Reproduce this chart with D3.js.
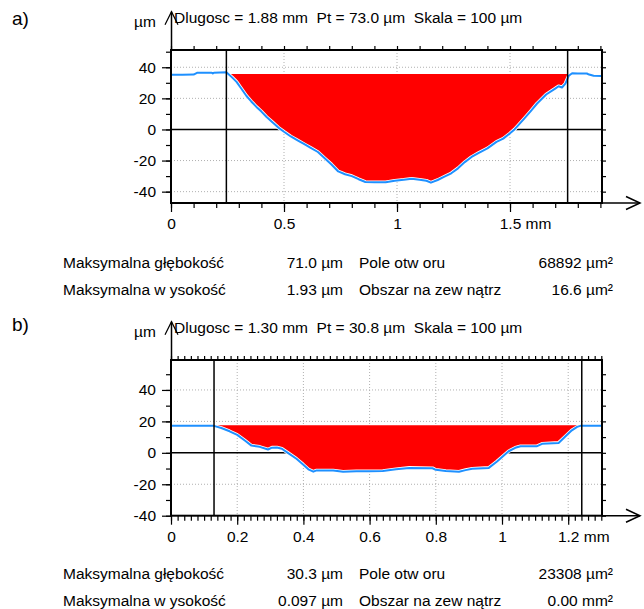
<!DOCTYPE html>
<html>
<head>
<meta charset="utf-8">
<script src="https://cdn.jsdelivr.net/npm/d3@7"></script>
<style>
body { margin: 0; background: #fff; }
svg text { font-family: "Liberation Sans", Arial, sans-serif; font-size: 15.5px; fill: #000; }
</style>
</head>
<body>
<svg id="mySvg" width="644" height="609"></svg>
<script>
var svg = d3.select("#mySvg");

// ---- data: profile a) ----
const profileAX = [0, 0.05, 0.10, 0.115, 0.18, 0.185, 0.19, 0.245, 0.27, 0.29, 0.31, 0.334, 0.355, 0.378, 0.40, 0.423, 0.45, 0.475, 0.50, 0.53, 0.56, 0.59, 0.62, 0.65, 0.68, 0.71, 0.74, 0.77, 0.80, 0.83, 0.86, 0.90, 0.95, 0.99, 1.03, 1.065, 1.10, 1.13, 1.15, 1.18, 1.21, 1.24, 1.27, 1.30, 1.33, 1.36, 1.40, 1.44, 1.47, 1.50, 1.52, 1.56, 1.59, 1.62, 1.66, 1.70, 1.715, 1.73, 1.745, 1.76, 1.775, 1.80, 1.84, 1.85, 1.87, 1.905];
const profileAY = [35.2, 35.2, 35.3, 36.4, 36.5, 36.0, 36.5, 36.8, 33.5, 30.6, 26.5, 21.5, 18.0, 14.5, 11.5, 8.0, 4.5, 1.2, -1.5, -4.5, -7.0, -9.5, -12.0, -14.5, -18.5, -22.5, -27.0, -28.8, -30.0, -32.0, -33.8, -34.0, -34.0, -33.0, -32.4, -31.7, -32.3, -33.0, -34.2, -32.5, -30.3, -28.2, -25.0, -21.0, -17.7, -15.2, -12.2, -8.0, -5.9, -2.5, 0.0, 6.5, 11.5, 16.7, 22.5, 26.3, 27.8, 27.0, 29.5, 34.5, 36.2, 36.0, 36.0, 35.3, 34.5, 34.4];
const levelA = 35.7;
const markersA = [0.245, 1.755];
const xTicksA = [0, 0.5, 1, 1.5];
const xTickLabelsA = ["0", "0.5", "1", "1.5"];
const headerA = "Dlugosc = 1.88 mm  Pt = 73.0 µm  Skala = 100 µm";
const statValuesA = ["71.0 µm", "1.93 µm"];
const statValues2A = ["68892 µm²", "16.6 µm²"];

// ---- data: profile b) ----
const profileBX = [0, 0.127, 0.152, 0.177, 0.20, 0.223, 0.243, 0.268, 0.293, 0.305, 0.32, 0.335, 0.353, 0.379, 0.399, 0.415, 0.43, 0.44, 0.49, 0.52, 0.56, 0.60, 0.64, 0.68, 0.72, 0.79, 0.80, 0.83, 0.87, 0.89, 0.91, 0.96, 0.985, 1.02, 1.04, 1.056, 1.106, 1.121, 1.171, 1.192, 1.211, 1.227, 1.239, 1.302];
const profileBY = [17.3, 17.3, 15.8, 13.7, 11.4, 7.8, 4.6, 3.8, 2.1, 3.3, 3.4, 2.6, 0.0, -3.8, -7.4, -10.5, -12.0, -11.2, -11.2, -12.0, -11.8, -11.8, -11.6, -10.5, -9.6, -9.8, -10.8, -11.6, -12.0, -11.0, -10.2, -9.6, -5.5, 1.0, 3.2, 4.2, 4.2, 5.7, 6.3, 10.5, 14.3, 16.5, 17.3, 17.3];
const levelB = 17.6;
const markersB = [0.130, 1.241];
const xTicksB = [0, 0.2, 0.4, 0.6, 0.8, 1, 1.2];
const xTickLabelsB = ["0", "0.2", "0.4", "0.6", "0.8", "1", "1.2"];
const headerB = "Dlugosc = 1.30 mm  Pt = 30.8 µm  Skala = 100 µm";
const statValuesB = ["30.3 µm", "0.097 µm"];
const statValues2B = ["23308 µm²", "0.00 mm²"];

// shared
const yTicks = [-40, -20, 0, 20, 40];
const yTickLabels = ["-40", "-20", "0", "20", "40"];
const xUnit = "mm";
const yUnit = "µm";
const statLabels = ["Maksymalna głębokość", "Maksymalna w ysokość"];
const statLabels2 = ["Pole otw oru", "Obszar na zew nątrz"];

const frameLeft = 171;
const frameRight = 602;
const profileColor = "#1e90ff";

function drawPanel(p) {
    var x = d3.scaleLinear().domain([0, p.xMax]).range([frameLeft, frameRight]);
    var y = d3.scaleLinear().domain(p.yDomain).range([p.bottom, p.top]);
    var g = svg.append('g');

    // dotted grid
    g.selectAll('.hg').data(yTicks.filter(d => d != 0 && y(d) < p.bottom - 1)).enter().append('line')
        .attr('x1', frameLeft).attr('x2', frameRight)
        .attr('y1', d => y(d)).attr('y2', d => y(d))
        .attr('stroke', '#b0b0b0').attr('stroke-dasharray', '1,2');
    g.selectAll('.vg').data(p.xTicks.filter(d => d != 0)).enter().append('line')
        .attr('x1', d => x(d)).attr('x2', d => x(d))
        .attr('y1', p.top).attr('y2', p.bottom)
        .attr('stroke', '#b0b0b0').attr('stroke-dasharray', '1,2');

    // zero line
    g.append('line').attr('x1', frameLeft).attr('x2', frameRight)
        .attr('y1', y(0)).attr('y2', y(0)).attr('stroke', '#000').attr('stroke-width', 1.5);

    // profile points
    var pts = p.px.map((d, i) => [d, p.py[i]]);

    // red fill between level and profile, inside the markers
    function interp(xv) {
        for (var i = 1; i < pts.length; i++) {
            if (pts[i][0] >= xv) {
                var t = (xv - pts[i - 1][0]) / (pts[i][0] - pts[i - 1][0]);
                return pts[i - 1][1] + t * (pts[i][1] - pts[i - 1][1]);
            }
        }
        return pts[pts.length - 1][1];
    }
    var fillPts = [[p.markers[0], interp(p.markers[0])]]
        .concat(pts.filter(d => d[0] > p.markers[0] && d[0] < p.markers[1]))
        .concat([[p.markers[1], interp(p.markers[1])]]);
    var area = d3.area()
        .x(d => x(d[0]))
        .y0(y(p.level))
        .y1(d => y(Math.min(d[1], p.level)));
    g.append('path').datum(fillPts).attr('d', area).attr('fill', '#ff0000');

    // profile line with light halo
    var line = d3.line().x(d => x(d[0])).y(d => y(d[1]));
    g.append('path').datum(pts).attr('d', line).attr('fill', 'none')
        .attr('stroke', '#ffffff').attr('stroke-width', 3.6).attr('stroke-linejoin', 'round');
    g.append('path').datum(pts).attr('d', line).attr('fill', 'none')
        .attr('stroke', profileColor).attr('stroke-width', 2).attr('stroke-linejoin', 'round');

    // marker lines
    g.selectAll('.mk').data(p.markers).enter().append('line')
        .attr('x1', d => x(d)).attr('x2', d => x(d))
        .attr('y1', p.top).attr('y2', p.bottom)
        .attr('stroke', '#000').attr('stroke-width', 1.5);

    // axes
    var yMinor = d3.range(Math.ceil(p.yDomain[0] / 10) * 10, p.yDomain[1] + 0.01, 10);
    var xMinor = d3.range(0, Math.round(p.xMax / p.xMinorStep) + 1).map(i => +(i * p.xMinorStep).toFixed(3)).filter(d => d <= p.xMax);

    g.append('g').attr('transform', `translate(${frameLeft},0)`)
        .call(d3.axisLeft(y).tickValues(yMinor).tickSize(5).tickFormat(''));
    g.append('g').attr('transform', `translate(${frameLeft},0)`)
        .call(d3.axisLeft(y).tickValues(yTicks).tickSize(9).tickPadding(6).tickFormat((d, i) => yTickLabels[i]));
    g.append('g').attr('transform', `translate(${frameRight},0)`)
        .call(d3.axisRight(y).tickValues(yMinor).tickSize(4).tickFormat(''));
    g.append('g').attr('transform', `translate(0,${p.top})`)
        .call(d3.axisTop(x).tickValues(xMinor).tickSize(4).tickFormat(''));
    g.append('g').attr('transform', `translate(0,${p.bottom})`)
        .call(d3.axisBottom(x).tickValues(xMinor).tickSize(5).tickFormat(''));
    var xAxis = g.append('g').attr('transform', `translate(0,${p.bottom})`)
        .call(d3.axisBottom(x).tickValues(p.xTicks).tickSize(9).tickPadding(6).tickFormat((d, i) => p.xTickLabels[i]));
    g.selectAll('.domain').remove();
    g.selectAll('.tick line').attr('stroke-width', 1.2);

    // unit on last x label, number stays centred on its tick
    var last = xAxis.selectAll('.tick text').filter((d, i) => i == p.xTicks.length - 1);
    var w = last.node().getComputedTextLength();
    last.attr('text-anchor', 'start').attr('x', -w / 2);
    last.append('tspan').text(' ' + xUnit);

    // frame
    g.append('rect').attr('x', frameLeft).attr('y', p.top)
        .attr('width', frameRight - frameLeft).attr('height', p.bottom - p.top)
        .attr('fill', 'none').attr('stroke', '#000').attr('stroke-width', 2);

    // axis arrows
    g.append('line').attr('x1', frameRight).attr('x2', 640).attr('y1', p.bottom).attr('y2', p.bottom)
        .attr('stroke', '#000').attr('stroke-width', 1.5);
    g.append('polyline').attr('points', `626,${p.bottom - 6.5} 640,${p.bottom} 626,${p.bottom + 6.5}`)
        .attr('fill', 'none').attr('stroke', '#000').attr('stroke-width', 1.5);
    g.append('line').attr('x1', frameLeft + 0.5).attr('x2', frameLeft + 0.5).attr('y1', p.top).attr('y2', p.arrowTop)
        .attr('stroke', '#000').attr('stroke-width', 1.5);
    g.append('polyline').attr('points', `${frameLeft - 6},${p.arrowTop + 13} ${frameLeft + 0.5},${p.arrowTop} ${frameLeft + 7},${p.arrowTop + 13}`)
        .attr('fill', 'none').attr('stroke', '#000').attr('stroke-width', 1.2);

    // texts
    g.append('text').attr('x', 12).attr('y', p.letterY).style('font-size', '19px').text(p.letter);
    g.append('text').attr('x', 134).attr('y', p.arrowTop + 15).text(yUnit);
    g.append('text').attr('x', 174).attr('y', p.arrowTop + 11).attr('xml:space', 'preserve')
        .style('white-space', 'pre').text(p.header);

    for (var i = 0; i < 2; i++) {
        var yy = p.statsY + i * 27;
        g.append('text').attr('x', 63).attr('y', yy).style('white-space', 'pre').text(statLabels[i]);
        g.append('text').attr('x', 343).attr('y', yy).attr('text-anchor', 'end').text(p.stat1[i]);
        g.append('text').attr('x', 359).attr('y', yy).style('white-space', 'pre').text(statLabels2[i]);
        g.append('text').attr('x', 613).attr('y', yy).attr('text-anchor', 'end').text(p.stat2[i]);
    }
}

drawPanel({
    letter: "a)", letterY: 25, arrowTop: 11.7, header: headerA,
    top: 50, bottom: 203, xMax: (frameRight - frameLeft) / 226, yDomain: [-47.3, 51.1],
    px: profileAX, py: profileAY, level: levelA, markers: markersA,
    xTicks: xTicksA, xTickLabels: xTickLabelsA, xMinorStep: 0.1,
    statsY: 268, stat1: statValuesA, stat2: statValues2A
});

drawPanel({
    letter: "b)", letterY: 331, arrowTop: 321.7, header: headerB,
    top: 360, bottom: 515.7, xMax: (frameRight - frameLeft) / 331, yDomain: [-40, 59.05],
    px: profileBX, py: profileBY, level: levelB, markers: markersB,
    xTicks: xTicksB, xTickLabels: xTickLabelsB, xMinorStep: 0.02,
    statsY: 579, stat1: statValuesB, stat2: statValues2B
});
</script>
</body>
</html>
